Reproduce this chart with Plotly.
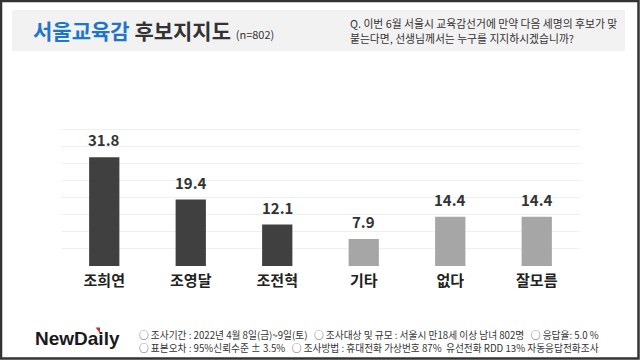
import plotly.graph_objects as go

categories = ["조희연", "조영달", "조전혁", "기타", "없다", "잘모름"]
values = [31.8, 19.4, 12.1, 7.9, 14.4, 14.4]
bar_colors = ["#404040", "#404040", "#404040", "#a6a6a6", "#a6a6a6", "#a6a6a6"]
value_labels = ["31.8", "19.4", "12.1", "7.9", "14.4", "14.4"]

FONT = "Noto Sans CJK KR"

L, R, T, B = 61, 60, 112, 94
PW, PH = 640 - L - R, 360 - T - B


def px(x):
    return (x - L) / PW


def py(y):
    return (360 - B - y) / PH


fig = go.Figure()
fig.add_trace(go.Bar(
    x=categories, y=values, marker=dict(color=bar_colors, line=dict(width=0)),
    hoverinfo="skip", width=0.35,
))

annotations = []
for c, v, t in zip(categories, values, value_labels):
    annotations.append(dict(x=c, y=v, xref="x", yref="y", text=f"<b>{t}</b>",
                            showarrow=False, yanchor="bottom", yshift=5,
                            font=dict(family=FONT, size=15, color="#333333")))

# header
annotations.append(dict(xref="paper", yref="paper", x=px(31), y=py(30), xanchor="left",
                        yanchor="middle", showarrow=False,
                        text="<b><span style='color:#1f75c9'>서울교육감</span> 후보지지도</b> <span style='font-size:11px'>(n=802)</span>",
                        font=dict(family=FONT, size=21, color="#333333")))
question_lines = [
    "Q. 이번 6월 서울시 교육감선거에 만약 다음 세명의 후보가 맞",
    "붙는다면, 선생님께서는 누구를 지지하시겠습니까?",
]
for line, yy in zip(question_lines, [23, 38]):
    annotations.append(dict(xref="paper", yref="paper", x=px(348), y=py(yy), xanchor="left",
                            yanchor="middle", showarrow=False, align="left", text=line,
                            font=dict(family=FONT, size=10.8, color="#333333")))
# footer
annotations.append(dict(xref="paper", yref="paper", x=px(33), y=py(338), xanchor="left",
                        yanchor="middle", showarrow=False,
                        text="<b>NewDaily</b>",
                        font=dict(family="Liberation Sans", size=19, color="#1a1a1a")))
footer_lines = [
    "○ 조사기간 : 2022년 4월 8일(금)~9일(토)   ○ 조사대상 및 규모 : 서울시 만18세 이상 남녀 802명   ○ 응답율: 5.0 %",
    "○ 표본오차 : 95%신뢰수준 ± 3.5%   ○ 조사방법 : 휴대전화 가상번호 87%  유선전화 RDD 13% 자동응답전화조사",
]
for line, yy in zip(footer_lines, [335, 347.5]):
    annotations.append(dict(xref="paper", yref="paper", x=px(137), y=py(yy), xanchor="left",
                            yanchor="middle", showarrow=False, align="left", text=line,
                            font=dict(family=FONT, size=9.7, color="#333333")))

shapes = [
    # header band
    dict(type="rect", xref="paper", yref="paper", x0=px(12), x1=px(625),
         y0=py(51), y1=py(10), fillcolor="#f2f2f2", line=dict(width=0), layer="below"),
    # outer border
    dict(type="rect", xref="paper", yref="paper", x0=px(1), x1=px(638.5),
         y0=py(358.5), y1=py(1), line=dict(color="#333333", width=2.5)),
    # logo red accent
    dict(type="path", xref="paper", yref="paper",
         path=f"M {px(95.5)} {py(327.5)} L {px(100)} {py(327.5)} L {px(100)} {py(333)} Z",
         fillcolor="#e2231a", line=dict(width=0)),
]

fig.update_layout(
    width=640, height=360,
    margin=dict(l=L, r=R, t=T, b=B),
    paper_bgcolor="white", plot_bgcolor="white",
    showlegend=False,
    annotations=annotations,
    shapes=shapes,
    xaxis=dict(showgrid=False, showline=False, zeroline=False, ticks="",
               tickfont=dict(family=FONT, size=15, color="#222222"),
               tickprefix="<b>", ticksuffix="</b>", ticklabelstandoff=4, fixedrange=True),
    yaxis=dict(range=[0, 45], dtick=5, showgrid=True, gridcolor="#f0f0f0", gridwidth=1,
               zeroline=False, showticklabels=False, showline=False, fixedrange=True),
)

fig.write_html("out.html", config={"displayModeBar": False},
               post_script="document.body.style.margin='0';document.body.style.padding='0';")
